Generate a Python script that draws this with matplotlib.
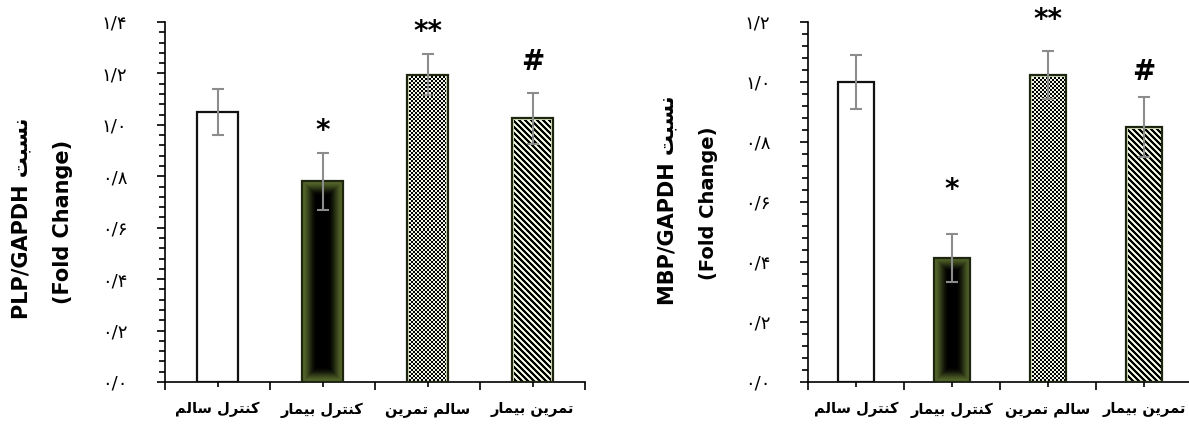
import numpy as np
import matplotlib
matplotlib.use('Agg')
import matplotlib.pyplot as plt
from matplotlib.ticker import FixedLocator, FixedFormatter

# ---- data ----
groups = ['کنترل سالم', 'کنترل بیمار', 'سالم تمرین', 'تمرین بیمار']

plp_mean = [1.05, 0.78, 1.195, 1.025]
plp_err = [0.09, 0.11, 0.08, 0.10]
plp_marks = ['', '*', '**', '#']
plp_mark_y = [0, 0.975, 1.36, 1.245]

mbp_mean = [1.0, 0.415, 1.023, 0.85]
mbp_err = [0.09, 0.08, 0.08, 0.10]
mbp_marks = ['', '*', '**', '#']
mbp_mark_y = [0, 0.64, 1.205, 1.035]

plp_ticks = [0.0, 0.2, 0.4, 0.6, 0.8, 1.0, 1.2, 1.4]
plp_ticklabels = ['۰/۰', '۰/۲', '۰/۴', '۰/۶', '۰/۸', '۱/۰', '۱/۲', '۱/۴']
mbp_ticks = [0.0, 0.2, 0.4, 0.6, 0.8, 1.0, 1.2]
mbp_ticklabels = ['۰/۰', '۰/۲', '۰/۴', '۰/۶', '۰/۸', '۱/۰', '۱/۲']

W, H = 1189, 425
OLIVE = np.array([0.34, 0.41, 0.17])
LIGHT = np.array([0.84, 0.89, 0.74])
FONTS = ['DejaVu Sans']

# ---- very small Persian shaper (matplotlib does no shaping / bidi) ----
FORMS = {
    'ا': (0xFE8D, 0xFE8E, 0xFE8D, 0xFE8E),
    'ب': (0xFE8F, 0xFE90, 0xFE91, 0xFE92),
    'ت': (0xFE95, 0xFE96, 0xFE97, 0xFE98),
    'ر': (0xFEAD, 0xFEAE, 0xFEAD, 0xFEAE),
    'س': (0xFEB1, 0xFEB2, 0xFEB3, 0xFEB4),
    'ل': (0xFEDD, 0xFEDE, 0xFEDF, 0xFEE0),
    'م': (0xFEE1, 0xFEE2, 0xFEE3, 0xFEE4),
    'ن': (0xFEE5, 0xFEE6, 0xFEE7, 0xFEE8),
    'ک': (0xFB8E, 0xFB8F, 0xFB90, 0xFB91),
    'ی': (0xFBFC, 0xFBFD, 0xFBFE, 0xFBFF),
}
DUAL = set('بتسلمنکی')

def shape(s):
    out = []
    for i, c in enumerate(s):
        if c not in FORMS:
            out.append(c)
            continue
        prev = i > 0 and s[i - 1] in DUAL
        nxt = c in DUAL and i + 1 < len(s) and s[i + 1] in FORMS
        iso, fin, ini, med = FORMS[c]
        if prev and nxt:
            out.append(chr(med))
        elif nxt:
            out.append(chr(ini))
        elif prev:
            out.append(chr(fin))
        else:
            out.append(chr(iso))
    return ''.join(out)[::-1]


def bar_pixels(ax, patch):
    x0, y0 = patch.get_x(), patch.get_y()
    x1, y1 = x0 + patch.get_width(), y0 + patch.get_height()
    (px0, py0), (px1, py1) = ax.transData.transform([(x0, y0), (x1, y1)])
    return x0, x1, y0, y1, int(round(px1 - px0)), int(round(py1 - py0))


def fill_image(kind, w, h):
    rows, cols = np.mgrid[0:h, 0:w]
    img = np.ones((h, w, 3))
    if kind == 'gradient':
        d = np.minimum.reduce([cols + 0.5, w - cols - 0.5, rows + 0.5, h - rows - 0.5])
        t = np.clip(d / 15.0, 0, 1)
        t = t * t * (3 - 2 * t)
        img = OLIVE * (1 - t[..., None])
    elif kind == 'checker':
        c = ((rows // 2 + cols // 2) % 2).astype(bool)
        img[:] = [0.95, 0.97, 0.90]
        img[c] = [0.0, 0.0, 0.0]
        edge = (cols < 2) | (cols >= w - 2) | (rows < 2)
        img[edge] = LIGHT
    elif kind == 'stripes':
        k = (rows - cols) % 6
        img[:] = [1.0, 1.0, 1.0]
        img[(k == 3) | (k == 5)] = LIGHT
        img[k < 3] = [0.0, 0.0, 0.0]
        edge = (cols < 2) | (cols >= w - 2) | (rows < 2)
        img[edge] = LIGHT
    return img


def panel(ax, means, errs, marks, mark_y, ticks, ticklabels, ymax, width):
    x = np.arange(len(means))
    ax.set_xlim(-0.5, len(means) - 0.5)
    ax.set_ylim(0, ymax)
    faces = ['white', OLIVE, LIGHT, LIGHT]
    edges = ['#111111', '#1e2610', '#1e2610', '#1e2610']
    kinds = [None, 'gradient', 'checker', 'stripes']
    bars = ax.bar(x, means, width, color=faces, edgecolor='none', zorder=1)
    for patch, kind in zip(bars, kinds):
        if kind is None:
            continue
        x0, x1, y0, y1, pw, ph = bar_pixels(ax, patch)
        img = fill_image(kind, pw, ph)
        ax.imshow(img, extent=(x0, x1, y0, y1), origin='upper', aspect='auto',
                  interpolation='nearest', zorder=2)
    ax.bar(x, means, width, fill=False, edgecolor=edges, linewidth=1.6, zorder=3)
    ax.errorbar(x, means, yerr=errs, fmt='none', ecolor='#8c8c8c', elinewidth=1.5,
                capsize=4.5, capthick=1.5, zorder=4)
    ax.set_xlim(-0.5, len(means) - 0.5)
    ax.set_ylim(0, ymax)
    for xi, m, my in zip(x, marks, mark_y):
        if m:
            ax.text(xi, my, m, ha='center', va='center', fontsize=20, fontweight='bold',
                    family=FONTS, clip_on=False, zorder=5)

    ax.spines['top'].set_visible(False)
    ax.spines['right'].set_visible(False)
    ax.spines['left'].set_linewidth(1.2)
    ax.spines['bottom'].set_linewidth(1.2)

    ax.yaxis.set_major_locator(FixedLocator(ticks))
    ax.yaxis.set_major_formatter(FixedFormatter(ticklabels))
    ax.yaxis.set_minor_locator(FixedLocator(np.arange(0, ymax + 0.001, 0.04)))
    ax.tick_params(axis='y', which='major', direction='out', length=6, width=1.2,
                   pad=21, labelsize=13)
    ax.tick_params(axis='y', which='minor', direction='out', length=4, width=1.2)

    ax.xaxis.set_major_locator(FixedLocator(x))
    ax.xaxis.set_major_formatter(FixedFormatter([shape(g) for g in groups]))
    ax.xaxis.set_minor_locator(FixedLocator(np.arange(-0.5, len(means), 1.0)))
    ax.tick_params(axis='x', which='major', direction='out', length=3.5, width=1.2, pad=11,
                   labelsize=10.5)
    ax.tick_params(axis='x', which='minor', direction='out', length=5.5, width=1.2)
    for lab in ax.get_xticklabels():
        lab.set_fontweight('bold')
        lab.set_family(FONTS)
    for lab in ax.get_yticklabels():
        lab.set_family(FONTS)


fig = plt.figure(figsize=(W / 100, H / 100), dpi=100)
ax1 = fig.add_axes([165 / W, 43 / H, 420 / W, 360 / H])
ax2 = fig.add_axes([808 / W, 43 / H, 384 / W, 360 / H])

panel(ax1, plp_mean, plp_err, plp_marks, plp_mark_y, plp_ticks, plp_ticklabels, 1.4, 0.39)
panel(ax2, mbp_mean, mbp_err, mbp_marks, mbp_mark_y, mbp_ticks, mbp_ticklabels, 1.2, 0.385)

nesbat = shape('نسبت')
fig.text(21 / W, 1 - 218 / H, 'PLP/GAPDH ' + nesbat, rotation=90, ha='center', va='center',
         fontsize=15, fontweight='bold', family=FONTS)
fig.text(63 / W, 1 - 222 / H, '(Fold Change)', rotation=90, ha='center', va='center',
         fontsize=15, fontweight='bold', family=FONTS)
fig.text(667 / W, 1 - 200 / H, 'MBP/GAPDH ' + nesbat, rotation=90, ha='center', va='center',
         fontsize=15, fontweight='bold', family=FONTS)
fig.text(709 / W, 1 - 203 / H, '(Fold Change)', rotation=90, ha='center', va='center',
         fontsize=14, fontweight='bold', family=FONTS)

fig.savefig('out.png', dpi=100)
